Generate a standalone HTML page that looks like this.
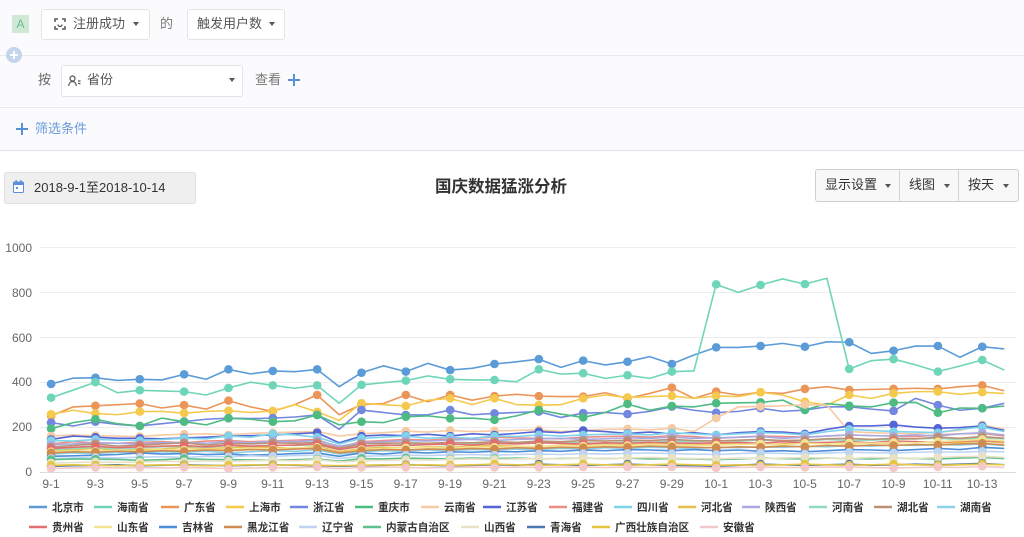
<!DOCTYPE html>
<html><head><meta charset="utf-8">
<style>
*{margin:0;padding:0;box-sizing:border-box}
body{width:1024px;height:537px;overflow:hidden;background:#fff;font-family:"Liberation Sans","Noto Sans CJK SC",sans-serif;position:relative;color:#555}
.a{position:absolute}
.hl{position:absolute;left:0;width:1024px;height:1px;background:#e6e8ec}
.box{position:absolute;background:#fff;border:1px solid #e4e4e6;border-radius:3px}
.t{position:absolute;font-size:13px;line-height:16px;white-space:nowrap}
.car{position:absolute;width:0;height:0;border-left:3.5px solid transparent;border-right:3.5px solid transparent;border-top:4px solid #555}
svg text{font-family:"Liberation Sans","Noto Sans CJK SC",sans-serif}
polyline{fill:none;stroke-width:1.6;vector-effect:non-scaling-stroke;stroke-linejoin:round}
path.m{fill:none;stroke-width:8.5;stroke-linecap:round;vector-effect:non-scaling-stroke}
</style></head><body>
<div class="a" style="left:0;top:0;width:1024px;height:150px;background:#fbfbfd"></div>
<div class="hl" style="top:55px"></div>
<div class="hl" style="top:107px"></div>
<div class="hl" style="top:150px;background:#e0e2e6"></div>

<div class="a" style="left:12px;top:15px;width:17px;height:18px;background:#cfe9d6;color:#6cb98a;font-size:12px;line-height:18px;text-align:center">A</div>

<div class="box" style="left:41px;top:9px;width:109px;height:31px"></div>
<svg class="a" style="left:54px;top:18px" width="12" height="12" viewBox="0 0 12 12"><path d="M1 4V1h3M8 1h3v3M11 8v3H8M4 11H1V8" fill="none" stroke="#555" stroke-width="1.5"/><path d="M4 6.5a2 2 0 0 0 4 0" fill="none" stroke="#555" stroke-width="1.3"/></svg>
<div class="t" style="left:73px;top:16px">注册成功</div>
<div class="car" style="left:133px;top:22px"></div>
<div class="t" style="left:160px;top:16px;color:#777">的</div>
<div class="box" style="left:187px;top:9px;width:98px;height:31px"></div>
<div class="t" style="left:197px;top:16px">触发用户数</div>
<div class="car" style="left:269px;top:22px"></div>

<div class="a" style="left:6px;top:47px;width:16px;height:16px;border-radius:50%;background:#c4d4ec"></div>
<div class="a" style="left:10px;top:54px;width:8px;height:2px;background:#fff"></div>
<div class="a" style="left:13px;top:51px;width:2px;height:8px;background:#fff"></div>

<div class="t" style="left:38px;top:72px;color:#666">按</div>
<div class="box" style="left:61px;top:65px;width:182px;height:32px"></div>
<svg class="a" style="left:68px;top:75px" width="13" height="12" viewBox="0 0 13 12"><circle cx="4.5" cy="3.5" r="2.5" fill="none" stroke="#555" stroke-width="1.2"/><path d="M0.8 11c0-3 1.7-4.5 3.7-4.5S8.2 8 8.2 11" fill="none" stroke="#555" stroke-width="1.2"/><path d="M10 6h2.5M10 8.5h2.5" stroke="#555" stroke-width="1.2"/></svg>
<div class="t" style="left:87px;top:72px">省份</div>
<div class="car" style="left:229px;top:78px"></div>
<div class="t" style="left:255px;top:72px;color:#777">查看</div>
<div class="a" style="left:288px;top:79px;width:12px;height:2px;background:#5a8fd6"></div>
<div class="a" style="left:293px;top:74px;width:2px;height:12px;background:#5a8fd6"></div>

<div class="a" style="left:16px;top:128px;width:12px;height:2px;background:#5a8fd6"></div>
<div class="a" style="left:21px;top:123px;width:2px;height:12px;background:#5a8fd6"></div>
<div class="t" style="left:35px;top:121px;color:#6b9bd8">筛选条件</div>

<div class="a" style="left:4px;top:172px;width:192px;height:32px;background:#efefef;border:1px solid #dedede;border-radius:3px"></div>
<svg class="a" style="left:13px;top:180px" width="11" height="13" viewBox="0 0 11 13"><rect x="0.5" y="2" width="10" height="10.5" rx="1" fill="#fff" stroke="#5b8fd8"/><rect x="0.5" y="2" width="10" height="3" fill="#5b8fd8"/><rect x="2.5" y="0" width="1.3" height="3" fill="#5b8fd8"/><rect x="7.2" y="0" width="1.3" height="3" fill="#5b8fd8"/><rect x="3" y="7" width="2" height="2" fill="#5b8fd8"/></svg>
<div class="t" style="left:34px;top:180px;color:#333">2018-9-1至2018-10-14</div>

<div class="t" style="left:435px;top:178px;font-size:16.5px;line-height:18px;font-weight:bold;color:#333">国庆数据猛涨分析</div>

<div class="a" style="left:815px;top:169px;width:204px;height:33px;background:#f8f8f8;border:1px solid #cfcfcf;border-radius:3px"></div>
<div class="a" style="left:899px;top:170px;width:1px;height:31px;background:#d4d4d4"></div>
<div class="a" style="left:958px;top:170px;width:1px;height:31px;background:#d4d4d4"></div>
<div class="t" style="left:825px;top:177px;color:#333">显示设置</div>
<div class="car" style="left:885px;top:184px"></div>
<div class="t" style="left:909px;top:177px;color:#333">线图</div>
<div class="car" style="left:944px;top:184px"></div>
<div class="t" style="left:968px;top:177px;color:#333">按天</div>
<div class="car" style="left:1003px;top:184px"></div>

<svg class="a" style="left:0;top:0" width="1024" height="537" viewBox="0 0 1024 537">
<g stroke="#ececec" stroke-width="1">
<line x1="40" y1="247.5" x2="1016" y2="247.5"/>
<line x1="40" y1="292.5" x2="1016" y2="292.5"/>
<line x1="40" y1="337.5" x2="1016" y2="337.5"/>
<line x1="40" y1="382.5" x2="1016" y2="382.5"/>
<line x1="40" y1="427.5" x2="1016" y2="427.5"/>
<line x1="40" y1="472.5" x2="1016" y2="472.5" stroke="#dcdcdc"/>
</g>
<g font-size="12" fill="#666" text-anchor="end">
<text x="32" y="252">1000</text>
<text x="32" y="297">800</text>
<text x="32" y="342">600</text>
<text x="32" y="386">400</text>
<text x="32" y="431">200</text>
<text x="32" y="476">0</text>
</g>
<g font-size="12" fill="#666" text-anchor="middle">
<text x="51" y="488">9-1</text>
<text x="95.3" y="488">9-3</text>
<text x="139.7" y="488">9-5</text>
<text x="184" y="488">9-7</text>
<text x="228.4" y="488">9-9</text>
<text x="272.7" y="488">9-11</text>
<text x="317" y="488">9-13</text>
<text x="361.4" y="488">9-15</text>
<text x="405.7" y="488">9-17</text>
<text x="450" y="488">9-19</text>
<text x="494.4" y="488">9-21</text>
<text x="538.7" y="488">9-23</text>
<text x="583" y="488">9-25</text>
<text x="627.4" y="488">9-27</text>
<text x="671.8" y="488">9-29</text>
<text x="716.1" y="488">10-1</text>
<text x="760.4" y="488">10-3</text>
<text x="804.8" y="488">10-5</text>
<text x="849.1" y="488">10-7</text>
<text x="893.5" y="488">10-9</text>
<text x="937.8" y="488">10-11</text>
<text x="982.1" y="488">10-13</text>
</g>

<g transform="translate(51,472) scale(22.17,-0.2245)">
<g stroke="#5b9bd8"><polyline points="0,392 1,418 2,420 3,408 4,413 5,410 6,435 7,413 8,457 9,437 10,450 11,447 12,457 13,380 14,442 15,473 16,447 17,484 18,454 19,462 20,481 21,491 22,503 23,466 24,496 25,477 26,491 27,514 28,481 29,521 30,555 31,555 32,561 33,573 34,558 35,580 36,578 37,528 38,540 39,561 40,561 41,511 42,558 43,548"/><path class="m" d="M0 392h.01M2 420h.01M4 413h.01M6 435h.01M8 457h.01M10 450h.01M12 457h.01M14 442h.01M16 447h.01M18 454h.01M20 481h.01M22 503h.01M24 496h.01M26 491h.01M28 481h.01M30 555h.01M32 561h.01M34 558h.01M36 578h.01M38 540h.01M40 561h.01M42 558h.01"/></g>
<g stroke="#6fd5b8"><polyline points="0,331 1,365 2,400 3,353 4,364 5,361 6,358 7,343 8,374 9,400 10,386 11,373 12,386 13,306 14,388 15,398 16,407 17,428 18,413 19,410 20,410 21,402 22,457 23,436 24,440 25,417 26,431 27,417 28,447 29,450 30,836 31,800 32,833 33,860 34,837 35,863 36,459 37,496 38,503 39,477 40,447 41,472 42,499 43,454"/><path class="m" d="M0 331h.01M2 400h.01M4 364h.01M6 358h.01M8 374h.01M10 386h.01M12 386h.01M14 388h.01M16 407h.01M18 413h.01M20 410h.01M22 457h.01M24 440h.01M26 431h.01M28 447h.01M30 836h.01M32 833h.01M34 837h.01M36 459h.01M38 503h.01M40 447h.01M42 499h.01"/></g>
<g stroke="#ec9559"><polyline points="0,250 1,290 2,295 3,300 4,305 5,285 6,298 7,280 8,318 9,290 10,270 11,300 12,343 13,255 14,300 15,305 16,343 17,313 18,343 19,320 20,338 21,346 22,338 23,336 24,336 25,353 26,328 27,350 28,376 29,328 30,358 31,343 32,355 33,350 34,370 35,380 36,365 37,368 38,370 39,373 40,370 41,380 42,386 43,362"/><path class="m" d="M0 250h.01M2 295h.01M4 305h.01M6 298h.01M8 318h.01M10 270h.01M12 343h.01M14 300h.01M16 343h.01M18 343h.01M20 338h.01M22 338h.01M24 336h.01M26 328h.01M28 376h.01M30 358h.01M32 355h.01M34 370h.01M36 365h.01M38 370h.01M40 370h.01M42 386h.01"/></g>
<g stroke="#f5c94d"><polyline points="0,257 1,275 2,261 3,255 4,269 5,270 6,262 7,270 8,273 9,265 10,272 11,300 12,268 13,230 14,306 15,300 16,294 17,320 18,328 19,300 20,328 21,300 22,298 23,300 24,328 25,343 26,332 27,336 28,339 29,328 30,339 31,336 32,355 33,343 34,313 35,298 36,343 37,328 38,350 39,358 40,358 41,346 42,355 43,350"/><path class="m" d="M0 257h.01M2 261h.01M4 269h.01M6 262h.01M8 273h.01M10 272h.01M12 268h.01M14 306h.01M16 294h.01M18 328h.01M20 328h.01M22 298h.01M24 328h.01M26 332h.01M28 339h.01M30 339h.01M32 355h.01M34 313h.01M36 343h.01M38 350h.01M40 358h.01M42 355h.01"/></g>
<g stroke="#7287df"><polyline points="0,220 1,205 2,224 3,212 4,205 5,215 6,225 7,235 8,240 9,238 10,240 11,245 12,254 13,190 14,276 15,265 16,254 17,255 18,276 19,255 20,261 21,265 22,269 23,243 24,262 25,265 26,258 27,270 28,291 29,275 30,264 31,270 32,284 33,270 34,276 35,290 36,291 37,280 38,272 39,328 40,298 41,275 42,284 43,306"/><path class="m" d="M0 220h.01M2 224h.01M4 205h.01M6 225h.01M8 240h.01M10 240h.01M12 254h.01M14 276h.01M16 254h.01M18 276h.01M20 261h.01M22 269h.01M24 262h.01M26 258h.01M28 291h.01M30 264h.01M32 284h.01M34 276h.01M36 291h.01M38 272h.01M40 298h.01M42 284h.01"/></g>
<g stroke="#4dbb82"><polyline points="0,193 1,220 2,235 3,215 4,205 5,240 6,224 7,210 8,239 9,235 10,224 11,228 12,254 13,210 14,224 15,220 16,246 17,250 18,239 19,240 20,232 21,250 22,276 23,258 24,243 25,265 26,303 27,275 28,294 29,290 30,306 31,308 32,310 33,320 34,276 35,305 36,295 37,290 38,309 39,310 40,264 41,285 42,284 43,294"/><path class="m" d="M0 193h.01M2 235h.01M4 205h.01M6 224h.01M8 239h.01M10 224h.01M12 254h.01M14 224h.01M16 246h.01M18 239h.01M20 232h.01M22 276h.01M24 243h.01M26 303h.01M28 294h.01M30 306h.01M32 310h.01M34 276h.01M36 295h.01M38 309h.01M40 264h.01M42 284h.01"/></g>
<g stroke="#f6cba3"><polyline points="0,160 1,165 2,162 3,160 4,158 5,165 6,168 7,170 8,165 9,172 10,175 11,178 12,180 13,160 14,170 15,175 16,182 17,178 18,185 19,180 20,183 21,185 22,188 23,180 24,185 25,190 26,192 27,188 28,195 29,180 30,240 31,290 32,292 33,295 34,300 35,298 36,180 37,175 38,172 39,170 40,178 41,185 42,210 43,190"/><path class="m" d="M0 160h.01M2 162h.01M4 158h.01M6 168h.01M8 165h.01M10 175h.01M12 180h.01M14 170h.01M16 182h.01M18 185h.01M20 183h.01M22 188h.01M24 185h.01M26 192h.01M28 195h.01M30 240h.01M32 292h.01M34 300h.01M36 180h.01M38 172h.01M40 178h.01M42 210h.01"/></g>
<g stroke="#5565d6"><polyline points="0,145 1,160 2,155 3,150 4,150 5,148 6,152 7,155 8,160 9,162 10,165 11,170 12,175 13,130 14,160 15,165 16,162 17,168 18,160 19,170 20,165 21,172 22,180 23,175 24,185 25,180 26,172 27,178 28,170 29,175 30,165 31,175 32,180 33,178 34,170 35,190 36,205 37,205 38,210 39,200 40,195 41,198 42,205 43,185"/><path class="m" d="M0 145h.01M2 155h.01M4 150h.01M6 152h.01M8 160h.01M10 165h.01M12 175h.01M14 160h.01M16 162h.01M18 160h.01M20 165h.01M22 180h.01M24 185h.01M26 172h.01M28 170h.01M30 165h.01M32 180h.01M34 170h.01M36 205h.01M38 210h.01M40 195h.01M42 205h.01"/></g>
<g stroke="#ee8d86"><polyline points="0,125 1,135 2,130 3,128 4,132 5,135 6,130 7,138 8,140 9,135 10,138 11,142 12,145 13,110 14,135 15,140 16,145 17,142 18,148 19,150 20,155 21,152 22,150 23,148 24,155 25,158 26,160 27,155 28,162 29,158 30,150 31,155 32,160 33,158 34,155 35,160 36,165 37,162 38,160 39,158 40,165 41,170 42,172 43,160"/><path class="m" d="M0 125h.01M2 130h.01M4 132h.01M6 130h.01M8 140h.01M10 138h.01M12 145h.01M14 135h.01M16 145h.01M18 148h.01M20 155h.01M22 150h.01M24 155h.01M26 160h.01M28 162h.01M30 150h.01M32 160h.01M34 155h.01M36 165h.01M38 160h.01M40 165h.01M42 172h.01"/></g>
<g stroke="#7fd4ea"><polyline points="0,140 1,138 2,145 3,142 4,140 5,145 6,150 7,148 8,160 9,155 10,170 11,165 12,155 13,125 14,150 15,155 16,160 17,150 18,155 19,150 20,160 21,158 22,165 23,160 24,165 25,168 26,170 27,165 28,175 29,170 30,165 31,170 32,175 33,172 34,165 35,180 36,190 37,185 38,180 39,178 40,175 41,190 42,200 43,180"/><path class="m" d="M0 140h.01M2 145h.01M4 140h.01M6 150h.01M8 160h.01M10 170h.01M12 155h.01M14 150h.01M16 160h.01M18 155h.01M20 160h.01M22 165h.01M24 165h.01M26 170h.01M28 175h.01M30 165h.01M32 175h.01M34 165h.01M36 190h.01M38 180h.01M40 175h.01M42 200h.01"/></g>
<g stroke="#e6c04e"><polyline points="0,95 1,100 2,105 3,98 4,100 5,102 6,110 7,105 8,108 9,112 10,110 11,105 12,115 13,90 14,105 15,110 16,108 17,112 18,110 19,115 20,118 21,115 22,112 23,120 24,118 25,122 26,120 27,125 28,122 29,120 30,125 31,128 32,122 33,125 34,130 35,128 36,125 37,130 38,128 39,135 40,130 41,132 42,138 43,130"/><path class="m" d="M0 95h.01M2 105h.01M4 100h.01M6 110h.01M8 108h.01M10 110h.01M12 115h.01M14 105h.01M16 108h.01M18 110h.01M20 118h.01M22 112h.01M24 118h.01M26 120h.01M28 122h.01M30 125h.01M32 122h.01M34 130h.01M36 125h.01M38 128h.01M40 130h.01M42 138h.01"/></g>
<g stroke="#aaaae3"><polyline points="0,120 1,125 2,130 3,128 4,125 5,130 6,132 7,128 8,135 9,130 10,138 11,135 12,140 13,115 14,130 15,135 16,140 17,138 18,142 19,145 20,140 21,145 22,148 23,150 24,145 25,148 26,152 27,150 28,155 29,150 30,152 31,155 32,158 33,150 34,155 35,160 36,165 37,162 38,160 39,165 40,160 41,170 42,175 43,165"/><path class="m" d="M0 120h.01M2 130h.01M4 125h.01M6 132h.01M8 135h.01M10 138h.01M12 140h.01M14 130h.01M16 140h.01M18 142h.01M20 140h.01M22 148h.01M24 145h.01M26 152h.01M28 155h.01M30 152h.01M32 158h.01M34 155h.01M36 165h.01M38 160h.01M40 160h.01M42 175h.01"/></g>
<g stroke="#92dac3"><polyline points="0,100 1,105 2,110 3,102 4,108 5,112 6,115 7,110 8,118 9,115 10,120 11,118 12,122 13,100 14,115 15,118 16,122 17,125 18,120 19,128 20,125 21,130 22,128 23,132 24,130 25,128 26,135 27,132 28,138 29,135 30,140 31,138 32,142 33,140 34,138 35,145 36,140 37,142 38,145 39,148 40,150 41,145 42,152 43,148"/><path class="m" d="M0 100h.01M2 110h.01M4 108h.01M6 115h.01M8 118h.01M10 120h.01M12 122h.01M14 115h.01M16 122h.01M18 120h.01M20 125h.01M22 128h.01M24 130h.01M26 135h.01M28 138h.01M30 140h.01M32 142h.01M34 138h.01M36 140h.01M38 145h.01M40 150h.01M42 152h.01"/></g>
<g stroke="#b99275"><polyline points="0,110 1,118 2,125 3,115 4,120 5,125 6,130 7,120 8,128 9,125 10,130 11,128 12,132 13,105 14,125 15,128 16,130 17,128 18,132 19,130 20,135 21,132 22,138 23,135 24,140 25,138 26,142 27,140 28,145 29,140 30,138 31,142 32,145 33,140 34,142 35,148 36,150 37,145 38,150 39,148 40,155 41,150 42,158 43,150"/><path class="m" d="M0 110h.01M2 125h.01M4 120h.01M6 130h.01M8 128h.01M10 130h.01M12 132h.01M14 125h.01M16 130h.01M18 132h.01M20 135h.01M22 138h.01M24 140h.01M26 142h.01M28 145h.01M30 138h.01M32 145h.01M34 142h.01M36 150h.01M38 150h.01M40 155h.01M42 158h.01"/></g>
<g stroke="#8dd0e7"><polyline points="0,80 1,85 2,82 3,88 4,85 5,90 6,88 7,92 8,85 9,90 10,95 11,92 12,98 13,80 14,90 15,95 16,92 17,98 18,95 19,100 20,98 21,102 22,100 23,105 24,102 25,108 26,105 27,110 28,108 29,105 30,110 31,108 32,112 33,110 34,115 35,112 36,118 37,115 38,120 39,118 40,122 41,120 42,125 43,118"/><path class="m" d="M0 80h.01M2 82h.01M4 85h.01M6 88h.01M8 85h.01M10 95h.01M12 98h.01M14 90h.01M16 92h.01M18 95h.01M20 98h.01M22 100h.01M24 102h.01M26 105h.01M28 108h.01M30 110h.01M32 112h.01M34 115h.01M36 118h.01M38 120h.01M40 122h.01M42 125h.01"/></g>
<g stroke="#e26f6f"><polyline points="0,105 1,110 2,115 3,108 4,112 5,115 6,118 7,112 8,120 9,115 10,118 11,120 12,125 13,100 14,115 15,120 16,118 17,122 18,125 19,120 20,128 21,125 22,130 23,128 24,125 25,130 26,128 27,132 28,130 29,128 30,130 31,132 32,128 33,135 34,130 35,132 36,135 37,130 38,138 39,135 40,132 41,138 42,140 43,135"/><path class="m" d="M0 105h.01M2 115h.01M4 112h.01M6 118h.01M8 120h.01M10 118h.01M12 125h.01M14 115h.01M16 118h.01M18 125h.01M20 128h.01M22 130h.01M24 125h.01M26 128h.01M28 130h.01M30 130h.01M32 128h.01M34 130h.01M36 135h.01M38 138h.01M40 132h.01M42 140h.01"/></g>
<g stroke="#f3e290"><polyline points="0,90 1,95 2,92 3,98 4,95 5,100 6,98 7,102 8,100 9,105 10,102 11,108 12,110 13,85 14,100 15,105 16,108 17,110 18,105 19,112 20,110 21,115 22,112 23,118 24,115 25,120 26,118 27,122 28,120 29,118 30,120 31,122 32,125 33,120 34,128 35,125 36,130 37,128 38,132 39,130 40,135 41,140 42,145 43,138"/><path class="m" d="M0 90h.01M2 92h.01M4 95h.01M6 98h.01M8 100h.01M10 102h.01M12 110h.01M14 100h.01M16 108h.01M18 105h.01M20 110h.01M22 112h.01M24 115h.01M26 118h.01M28 120h.01M30 120h.01M32 125h.01M34 128h.01M36 130h.01M38 132h.01M40 135h.01M42 145h.01"/></g>
<g stroke="#4e8edb"><polyline points="0,70 1,72 2,75 3,78 4,85 5,80 6,82 7,78 8,80 9,75 10,78 11,82 12,85 13,70 14,85 15,80 16,88 17,85 18,90 19,88 20,92 21,90 22,95 23,92 24,98 25,95 26,100 27,98 28,95 29,100 30,95 31,98 32,92 33,95 34,90 35,95 36,100 37,98 38,95 39,100 40,105 41,100 42,110 43,105"/><path class="m" d="M0 70h.01M2 75h.01M4 85h.01M6 82h.01M8 80h.01M10 78h.01M12 85h.01M14 85h.01M16 88h.01M18 90h.01M20 92h.01M22 95h.01M24 98h.01M26 100h.01M28 95h.01M30 95h.01M32 92h.01M34 90h.01M36 100h.01M38 95h.01M40 105h.01M42 110h.01"/></g>
<g stroke="#cf8b50"><polyline points="0,85 1,90 2,88 3,92 4,90 5,95 6,92 7,98 8,95 9,100 10,98 11,102 12,105 13,85 14,95 15,100 16,98 17,102 18,100 19,105 20,102 21,108 22,105 23,110 24,108 25,112 26,110 27,115 28,112 29,110 30,108 31,112 32,110 33,115 34,112 35,118 36,115 37,120 38,118 39,122 40,120 41,125 42,128 43,120"/><path class="m" d="M0 85h.01M2 88h.01M4 90h.01M6 92h.01M8 95h.01M10 98h.01M12 105h.01M14 95h.01M16 98h.01M18 100h.01M20 102h.01M22 105h.01M24 108h.01M26 110h.01M28 112h.01M30 108h.01M32 110h.01M34 112h.01M36 115h.01M38 118h.01M40 120h.01M42 128h.01"/></g>
<g stroke="#c0d5f2"><polyline points="0,60 1,62 2,65 3,63 4,66 5,68 6,65 7,70 8,68 9,72 10,70 11,73 12,75 13,60 14,70 15,72 16,75 17,73 18,76 19,78 20,75 21,78 22,80 23,78 24,82 25,80 26,83 27,85 28,82 29,80 30,78 31,82 32,85 33,83 34,80 35,85 36,88 37,86 38,85 39,88 40,90 41,88 42,92 43,90"/><path class="m" d="M0 60h.01M2 65h.01M4 66h.01M6 65h.01M8 68h.01M10 70h.01M12 75h.01M14 70h.01M16 75h.01M18 76h.01M20 75h.01M22 80h.01M24 82h.01M26 83h.01M28 82h.01M30 78h.01M32 85h.01M34 80h.01M36 88h.01M38 85h.01M40 90h.01M42 92h.01"/></g>
<g stroke="#5cc08d"><polyline points="0,55 1,58 2,57 3,56 4,52 5,55 6,60 7,56 8,55 9,54 10,52 11,55 12,58 13,48 14,60 15,58 16,62 17,60 18,58 19,62 20,60 21,62 22,58 23,60 24,62 25,60 26,62 27,58 28,60 29,58 30,55 31,58 32,62 33,60 34,58 35,62 36,60 37,58 38,62 39,60 40,58 41,62 42,65 43,60"/><path class="m" d="M0 55h.01M2 57h.01M4 52h.01M6 60h.01M8 55h.01M10 52h.01M12 58h.01M14 60h.01M16 62h.01M18 58h.01M20 60h.01M22 58h.01M24 62h.01M26 62h.01M28 60h.01M30 55h.01M32 62h.01M34 58h.01M36 60h.01M38 62h.01M40 58h.01M42 65h.01"/></g>
<g stroke="#e8e1c4"><polyline points="0,40 1,42 2,45 3,43 4,45 5,48 6,46 7,50 8,48 9,50 10,52 11,50 12,55 13,45 14,50 15,52 16,55 17,53 18,55 19,58 20,56 21,58 22,60 23,58 24,62 25,60 26,62 27,65 28,62 29,60 30,58 31,62 32,60 33,62 34,65 35,62 36,60 37,65 38,62 39,60 40,65 41,68 42,70 43,65"/><path class="m" d="M0 40h.01M2 45h.01M4 45h.01M6 46h.01M8 48h.01M10 52h.01M12 55h.01M14 50h.01M16 55h.01M18 55h.01M20 56h.01M22 60h.01M24 62h.01M26 62h.01M28 62h.01M30 58h.01M32 60h.01M34 65h.01M36 60h.01M38 62h.01M40 65h.01M42 70h.01"/></g>
<g stroke="#4a77ae"><polyline points="0,25 1,28 2,30 3,32 4,28 5,30 6,32 7,30 8,28 9,30 10,32 11,30 12,28 13,25 14,28 15,30 16,32 17,30 18,28 19,30 20,32 21,30 22,35 23,32 24,30 25,32 26,35 27,32 28,30 29,28 30,25 31,30 32,35 33,32 34,30 35,32 36,35 37,30 38,32 39,35 40,32 41,35 42,38 43,32"/><path class="m" d="M0 25h.01M2 30h.01M4 28h.01M6 32h.01M8 28h.01M10 32h.01M12 28h.01M14 28h.01M16 32h.01M18 28h.01M20 32h.01M22 35h.01M24 30h.01M26 35h.01M28 30h.01M30 25h.01M32 35h.01M34 30h.01M36 35h.01M38 32h.01M40 32h.01M42 38h.01"/></g>
<g stroke="#e5c640"><polyline points="0,30 1,32 2,30 3,28 4,30 5,32 6,30 7,28 8,30 9,32 10,30 11,32 12,30 13,28 14,30 15,32 16,30 17,32 18,30 19,32 20,35 21,32 22,30 23,32 24,35 25,32 26,30 27,32 28,35 29,32 30,30 31,32 32,30 33,32 34,35 35,32 36,30 37,32 38,35 39,32 40,30 41,32 42,35 43,32"/><path class="m" d="M0 30h.01M2 30h.01M4 30h.01M6 30h.01M8 30h.01M10 30h.01M12 30h.01M14 30h.01M16 30h.01M18 30h.01M20 35h.01M22 30h.01M24 35h.01M26 30h.01M28 35h.01M30 30h.01M32 30h.01M34 35h.01M36 30h.01M38 35h.01M40 30h.01M42 35h.01"/></g>
<g stroke="#f2c8c8"><polyline points="0,15 1,18 2,20 3,18 4,20 5,18 6,20 7,18 8,15 9,18 10,20 11,18 12,22 13,15 14,20 15,22 16,20 17,18 18,20 19,22 20,20 21,22 22,20 23,22 24,22 25,20 26,22 27,20 28,22 29,20 30,18 31,20 32,22 33,20 34,20 35,22 36,22 37,20 38,18 39,20 40,22 41,20 42,25 43,20"/><path class="m" d="M0 15h.01M2 20h.01M4 20h.01M6 20h.01M8 15h.01M10 20h.01M12 22h.01M14 20h.01M16 20h.01M18 20h.01M20 20h.01M22 20h.01M24 22h.01M26 22h.01M28 22h.01M30 18h.01M32 22h.01M34 20h.01M36 22h.01M38 18h.01M40 22h.01M42 25h.01"/></g>
</g>

<g stroke-width="2.5">
<line x1="29" y1="507" x2="47" y2="507" stroke="#5b9bd8"/>
<line x1="94" y1="507" x2="112" y2="507" stroke="#6fd5b8"/>
<line x1="161" y1="507" x2="179" y2="507" stroke="#ec9559"/>
<line x1="226" y1="507" x2="244" y2="507" stroke="#f5c94d"/>
<line x1="290" y1="507" x2="308" y2="507" stroke="#7287df"/>
<line x1="355" y1="507" x2="373" y2="507" stroke="#4dbb82"/>
<line x1="421" y1="507" x2="439" y2="507" stroke="#f6cba3"/>
<line x1="483" y1="507" x2="501" y2="507" stroke="#5565d6"/>
<line x1="549" y1="507" x2="567" y2="507" stroke="#ee8d86"/>
<line x1="614" y1="507" x2="632" y2="507" stroke="#7fd4ea"/>
<line x1="678" y1="507" x2="696" y2="507" stroke="#e6c04e"/>
<line x1="742" y1="507" x2="760" y2="507" stroke="#aaaae3"/>
<line x1="809" y1="507" x2="827" y2="507" stroke="#92dac3"/>
<line x1="874" y1="507" x2="892" y2="507" stroke="#b99275"/>
<line x1="937" y1="507" x2="955" y2="507" stroke="#8dd0e7"/>
<line x1="29" y1="527" x2="47" y2="527" stroke="#e26f6f"/>
<line x1="94" y1="527" x2="112" y2="527" stroke="#f3e290"/>
<line x1="159" y1="527" x2="177" y2="527" stroke="#4e8edb"/>
<line x1="224" y1="527" x2="242" y2="527" stroke="#cf8b50"/>
<line x1="299" y1="527" x2="317" y2="527" stroke="#c0d5f2"/>
<line x1="363" y1="527" x2="381" y2="527" stroke="#5cc08d"/>
<line x1="461" y1="527" x2="479" y2="527" stroke="#e8e1c4"/>
<line x1="527" y1="527" x2="545" y2="527" stroke="#4a77ae"/>
<line x1="592" y1="527" x2="610" y2="527" stroke="#e5c640"/>
<line x1="700" y1="527" x2="718" y2="527" stroke="#f2c8c8"/>
</g>
<g font-size="10.6" font-weight="bold" fill="#333">
<text x="52" y="511">北京市</text>
<text x="117" y="511">海南省</text>
<text x="184" y="511">广东省</text>
<text x="249" y="511">上海市</text>
<text x="313" y="511">浙江省</text>
<text x="378" y="511">重庆市</text>
<text x="444" y="511">云南省</text>
<text x="506" y="511">江苏省</text>
<text x="572" y="511">福建省</text>
<text x="637" y="511">四川省</text>
<text x="701" y="511">河北省</text>
<text x="765" y="511">陕西省</text>
<text x="832" y="511">河南省</text>
<text x="897" y="511">湖北省</text>
<text x="960" y="511">湖南省</text>
<text x="52" y="531">贵州省</text>
<text x="117" y="531">山东省</text>
<text x="182" y="531">吉林省</text>
<text x="247" y="531">黑龙江省</text>
<text x="322" y="531">辽宁省</text>
<text x="386" y="531">内蒙古自治区</text>
<text x="484" y="531">山西省</text>
<text x="550" y="531">青海省</text>
<text x="615" y="531">广西壮族自治区</text>
<text x="723" y="531">安徽省</text>
</g>
</svg>
</body></html>
